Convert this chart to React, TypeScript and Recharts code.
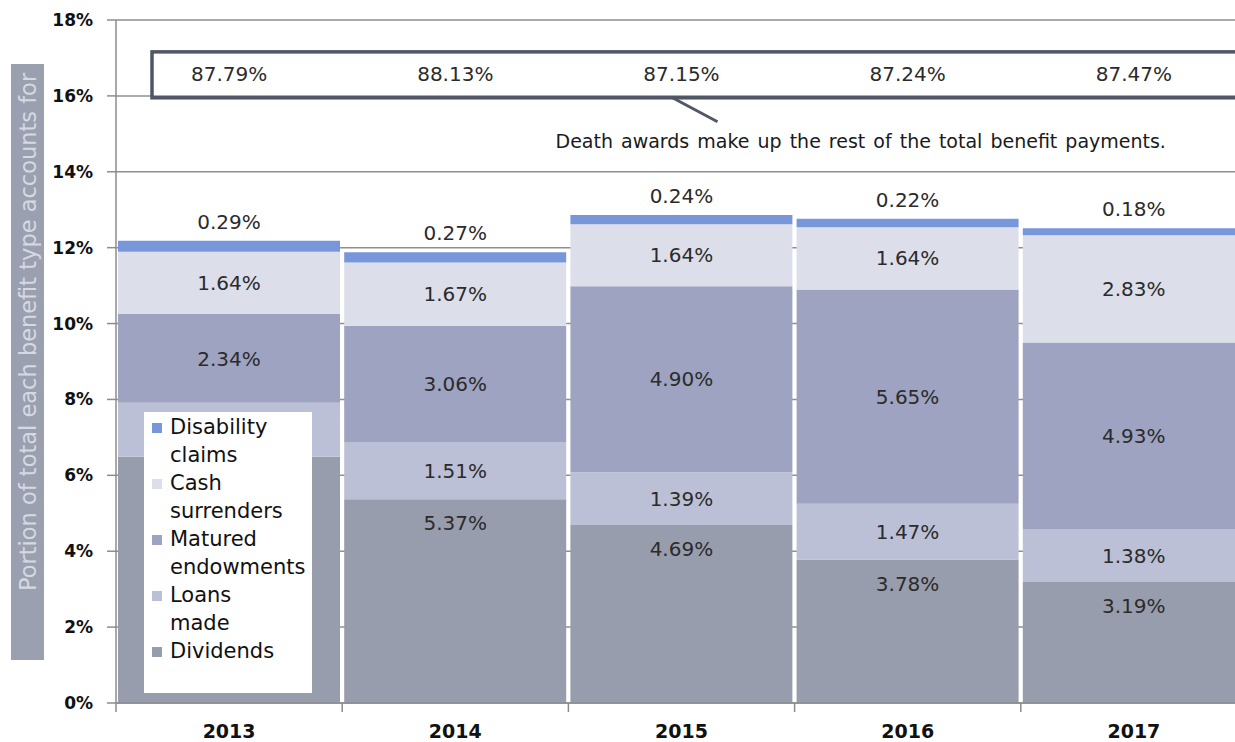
import {
  BarChart,
  Bar,
  XAxis,
  YAxis,
  CartesianGrid,
  Legend,
  LabelList,
  ReferenceArea,
  ReferenceDot,
} from 'recharts';

const years = ['2013', '2014', '2015', '2016', '2017'];
const dividends = [6.49, 5.37, 4.69, 3.78, 3.19];
const loansMade = [1.42, 1.51, 1.39, 1.47, 1.38];
const maturedEndowments = [2.34, 3.06, 4.9, 5.65, 4.93];
const cashSurrenders = [1.64, 1.67, 1.64, 1.64, 2.83];
const disabilityClaims = [0.29, 0.27, 0.24, 0.22, 0.18];
const deathAwards = [87.79, 88.13, 87.15, 87.24, 87.47];
const yTicks = [0, 2, 4, 6, 8, 10, 12, 14, 16, 18];

// the legend sits over the lower part of this bar, so its labels there are not shown
const LEGEND_COVERED = { year: '2013', series: ['dividends', 'loansMade'] };

// where the death-award note sits on the value scale
const NOTE_BOX = { y1: 15.95, y2: 17.16, labelY: 16.58 };
const NOTE_TEXT = 'Death awards make up the rest of the total benefit payments.';
const Y_TITLE = 'Portion of total each benefit type accounts for';

const FONT = "'DejaVu Sans', sans-serif";
const CHART_W = 1262;
const CHART_H = 742;
const MARGIN = { top: 20, right: 15, left: 0, bottom: 0 };
const Y_AXIS_W = 116;
const X_AXIS_H = 39;
const BAND = (CHART_W - MARGIN.left - MARGIN.right - Y_AXIS_W) / years.length;

const data = years.map((year, i) => ({
  year,
  dividends: dividends[i],
  loansMade: loansMade[i],
  maturedEndowments: maturedEndowments[i],
  cashSurrenders: cashSurrenders[i],
  disabilityClaims: disabilityClaims[i],
  deathAwards: deathAwards[i],
}));

// stack order, bottom to top
const SERIES = [
  { key: 'dividends', name: 'Dividends', color: '#989dad', pos: 'insideTop', offset: 17 },
  { key: 'loansMade', name: 'Loans made', color: '#bcc0d6', pos: 'center', offset: 5 },
  { key: 'maturedEndowments', name: 'Matured endowments', color: '#9da3c1', pos: 'center', offset: 5 },
  { key: 'cashSurrenders', name: 'Cash surrenders', color: '#dcdfea', pos: 'center', offset: 5 },
  { key: 'disabilityClaims', name: 'Disability claims', color: '#7897da', pos: 'top', offset: 12 },
] as const;

const pct = (v: any) => `${Number(v).toFixed(2)}%`;

const labelValue = (key: string) => (entry: any) => {
  const row = entry?.payload ?? entry;
  if (row?.year === LEGEND_COVERED.year && LEGEND_COVERED.series.includes(key)) return null;
  return pct(row?.[key]);
};

function YearTick({ x, y, payload }: any) {
  return (
    <g>
      <line x1={x - BAND / 2} x2={x - BAND / 2} y1={y} y2={y + 9} stroke="#8c8c8c" strokeWidth={1.5} />
      <text
        x={x}
        y={y + 28}
        textAnchor="middle"
        dominantBaseline="central"
        fontFamily={FONT}
        fontWeight="bold"
        fontSize={19}
        fill="#111"
      >
        {payload.value}
      </text>
    </g>
  );
}

function YTitle({ viewBox }: any) {
  const vb = viewBox ?? { x: 0, y: MARGIN.top };
  const left = vb.x + 11;
  const top = vb.y + 44;
  return (
    <g>
      <rect x={left} y={top} width={33} height={596} fill="#9aa0af" />
      <text
        x={left + 17}
        y={top + 527}
        transform={`rotate(-90 ${left + 17} ${top + 527})`}
        textAnchor="start"
        dominantBaseline="central"
        fontFamily={FONT}
        fontSize={22.5}
        fill="#d6d9e1"
      >
        {Y_TITLE}
      </text>
    </g>
  );
}

function LegendBox() {
  const items = [...SERIES].reverse();
  return (
    <div style={{ padding: '2px 0 0 8px', fontFamily: FONT, fontSize: 21, color: '#111' }}>
      {items.map((item) => (
        <div key={item.key} style={{ display: 'flex', alignItems: 'flex-start', marginBottom: 1 }}>
          <span
            style={{
              width: 10,
              height: 10,
              marginTop: 9,
              marginRight: 8,
              background: item.color,
              flexShrink: 0,
            }}
          />
          <span style={{ width: 122, lineHeight: '27.5px' }}>{item.name}</span>
        </div>
      ))}
    </div>
  );
}

function NoteBox(props: any) {
  const { x, y, width, height } = props;
  return (
    <rect
      x={x + 36}
      y={y}
      width={width - 36}
      height={height}
      fill="none"
      stroke="#4f5665"
      strokeWidth={3.5}
    />
  );
}

function NoteLeader(props: any) {
  const { cx, cy } = props;
  return (
    <g>
      <line x1={cx - 9} y1={cy} x2={cx + 36} y2={cy + 24} stroke="#505868" strokeWidth={3} />
      <text
        x={cx - 126}
        y={cy + 43}
        dominantBaseline="central"
        fontFamily={FONT}
        fontSize={19}
        wordSpacing={2}
        fill="#1a1a1a"
      >
        {NOTE_TEXT}
      </text>
    </g>
  );
}

export default function App() {
  return (
    <div style={{ position: 'absolute', left: 0, top: 0, width: 1235, height: 742, overflow: 'hidden', background: '#fff' }}>
      <BarChart width={CHART_W} height={CHART_H} data={data} margin={MARGIN} barCategoryGap={2}>
        <CartesianGrid vertical={false} stroke="#8f8f8f" strokeWidth={1.5} />
        <XAxis
          dataKey="year"
          height={X_AXIS_H}
          tickSize={0}
          tickMargin={0}
          tickLine={false}
          axisLine={{ stroke: '#8c8c8c', strokeWidth: 1.5 }}
          tick={<YearTick />}
          interval={0}
        />
        <YAxis
          width={Y_AXIS_W}
          domain={[0, 18]}
          ticks={yTicks}
          tickFormatter={(v) => `${v}%`}
          tickSize={9}
          tickMargin={14}
          tickLine={{ stroke: '#8c8c8c', strokeWidth: 1.5 }}
          axisLine={{ stroke: '#8c8c8c', strokeWidth: 1.5 }}
          tick={{ fill: '#111', fontSize: 17, fontWeight: 'bold', fontFamily: FONT }}
          label={<YTitle />}
        />
        {SERIES.map((s) => (
          <Bar key={s.key} dataKey={s.key} name={s.name} stackId="benefit" fill={s.color} isAnimationActive={false}>
            <LabelList
              valueAccessor={labelValue(s.key)}
              position={s.pos}
              offset={s.offset}
              fill="#2b2b2b"
              fontSize={20}
              fontFamily={FONT}
            />
          </Bar>
        ))}
        <ReferenceArea y1={NOTE_BOX.y1} y2={NOTE_BOX.y2} shape={<NoteBox />} ifOverflow="visible" />
        {data.map((d) => (
          <ReferenceDot
            key={d.year}
            x={d.year}
            y={NOTE_BOX.labelY}
            r={0}
            fill="none"
            stroke="none"
            label={{ value: pct(d.deathAwards), position: 'center', fill: '#2b2b2b', fontSize: 20, fontFamily: FONT }}
          />
        ))}
        <ReferenceDot x="2015" y={NOTE_BOX.y1} r={0} shape={<NoteLeader />} />
        <Legend
          layout="vertical"
          align="center"
          verticalAlign="middle"
          wrapperStyle={{ left: 144, top: 412, width: 168, height: 281, background: '#fff' }}
          content={<LegendBox />}
        />
      </BarChart>
    </div>
  );
}
